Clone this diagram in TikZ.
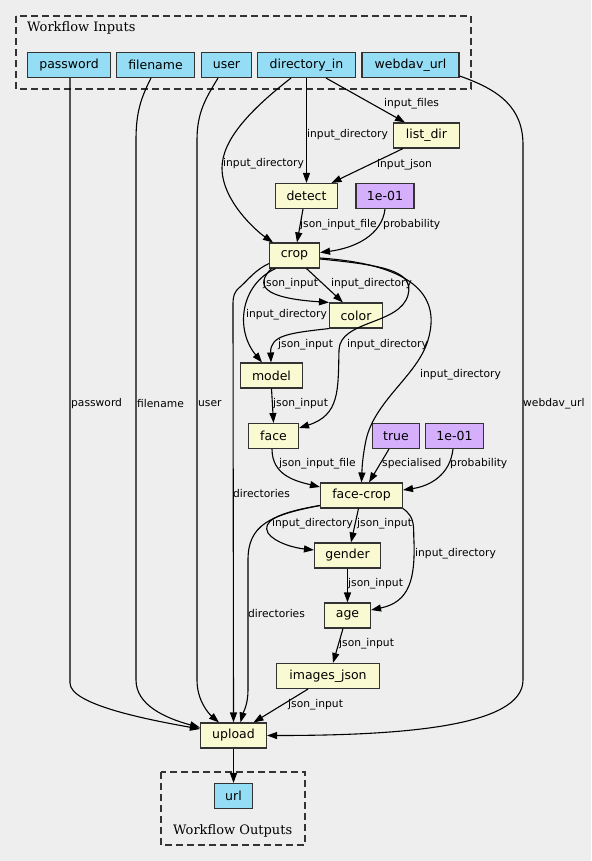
\documentclass[tikz,border=0pt]{standalone}
\usepackage{fontspec}
\setmainfont{DejaVu Sans}
\newfontfamily\serfont{DejaVu Serif}
\usetikzlibrary{arrows.meta}
\definecolor{bgc}{HTML}{EEEEEE}
\definecolor{inc}{HTML}{94DDF4}
\definecolor{stc}{HTML}{FAFAD2}
\definecolor{cnc}{HTML}{D5AEFC}
\definecolor{bdc}{HTML}{333333}
\tikzset{
 box/.style={draw=bdc, line width=1.1pt, inner sep=0pt, minimum height=25pt, font=\fontsize{12.5}{14}\selectfont},
 inbox/.style={box, fill=inc},
 stepbox/.style={box, fill=stc},
 constbox/.style={box, fill=cnc},
 lbl/.style={anchor=west, inner sep=0pt, font=\fontsize{10.7}{12}\selectfont},
 edge/.style={line width=1.1pt, -{Triangle[length=10pt,width=7pt]}},
 grp/.style={draw=bdc, line width=1.1pt, dash pattern=on 7pt off 4pt},
 ttl/.style={anchor=west, inner sep=0pt, font=\serfont\fontsize{13}{15}\selectfont},
}
\begin{document}
\begin{tikzpicture}[x=1pt,y=-1pt]
\fill[bgc] (0,0) rectangle (591,861);
\useasboundingbox (0,0) rectangle (591,861);
% groups
\draw[grp] (16,16) rectangle (471,89);
\node[ttl] (tin) at (27,28) {Workflow Inputs};
\draw[grp] (161,772) rectangle (305,845);
\node[ttl] (tout) at (173,831) {Workflow Outputs};
% nodes
\node[inbox, minimum width=83pt] (password) at (69,65) {password};
\node[inbox, minimum width=78pt] (filename) at (155.5,65) {filename};
\node[inbox, minimum width=50pt] (user) at (226.5,65) {user};
\node[inbox, minimum width=98pt] (dirin) at (306.5,65) {directory\_in};
\node[inbox, minimum width=97pt] (webdav) at (410.5,65) {webdav\_url};
\node[stepbox, minimum width=66pt] (listdir) at (426.5,135.5) {list\_dir};
\node[stepbox, minimum width=62pt] (detect) at (306.5,196) {detect};
\node[constbox, minimum width=58pt] (c1) at (385,196) {1e-01};
\node[stepbox, minimum width=50pt] (crop) at (294.5,255.5) {crop};
\node[stepbox, minimum width=53pt] (color) at (356,315.5) {color};
\node[stepbox, minimum width=62pt] (model) at (271.5,375.5) {model};
\node[stepbox, minimum width=50pt] (face) at (273.5,436) {face};
\node[constbox, minimum width=47pt] (ctrue) at (396,436) {true};
\node[constbox, minimum width=58pt] (c2) at (454.5,436) {1e-01};
\node[stepbox, minimum width=82pt] (facecrop) at (361.5,495.5) {face-crop};
\node[stepbox, minimum width=66pt] (gender) at (347.5,555.5) {gender};
\node[stepbox, minimum width=46pt] (age) at (347.5,615.5) {age};
\node[stepbox, minimum width=103pt] (imgjson) at (328,676) {images\_json};
\node[stepbox, minimum width=66pt] (upload) at (233.5,735.5) {upload};
\node[inbox, minimum width=38pt] (url) at (233.5,796) {url};
% edges
\draw[edge] ([xshift=19.5pt]dirin.south) -- ([xshift=-21.5pt]listdir.north);
\draw[edge] (dirin.south) -- (detect.north);
\draw[edge] ([xshift=-23.5pt]listdir.south) -- ([xshift=25pt]detect.north);
\draw[edge] ([xshift=-15.5pt]dirin.south) .. controls (250,110) and (222,140) .. (222,168) .. controls (222,200) and (255,230) .. ([xshift=-21.5pt]crop.north);
\draw[edge] ([xshift=-3.5pt]detect.south) -- ([xshift=2.5pt]crop.north);
\draw[edge] (c1.south) .. controls (382,235) and (355,248) .. ([yshift=3pt]crop.east);
\draw[edge] ([xshift=-23pt]crop.south) .. controls (255,285) and (262,298) .. (color.north west);
\draw[edge] ([xshift=12pt]crop.south) -- ([xshift=-13pt]color.north);
\draw[edge] ([xshift=-19pt]crop.south) .. controls (240,285) and (235,330) .. ([xshift=-9.5pt]model.north);
\draw[edge] (color.south west) .. controls (290,333) and (270,335) .. ([xshift=-0.5pt]model.north);
\draw[edge] ([yshift=-3.5pt]crop.east) .. controls (380,265) and (415,270) .. (408,295) .. controls (400,325) and (340,320) .. (339,350) .. controls (338,390) and (340,415) .. ([yshift=8pt]face.east);
\draw[edge] ([yshift=-2.5pt]crop.east) .. controls (420,265) and (440,300) .. (428,340) .. controls (418,375) and (375,400) .. (366,440) .. controls (362,460) and (362,470) .. (facecrop.north);
\draw[edge] (model.south) -- (face.north);
\draw[edge] ([xshift=-1.5pt]face.south) .. controls (272,475) and (295,481) .. ([yshift=8.5pt]facecrop.west);
\draw[edge] ([xshift=-7pt]ctrue.south) -- ([xshift=7.5pt]facecrop.north);
\draw[edge] ([xshift=-1.5pt]c2.south) .. controls (450,475) and (430,486) .. ([yshift=5.5pt]facecrop.east);
\draw[edge] ([xshift=-3pt]facecrop.south) -- ([xshift=3.5pt]gender.north);
\draw[edge] ([yshift=-10pt]facecrop.west) .. controls (275,513) and (262,522) .. (268,533) .. controls (275,543) and (295,548) .. ([yshift=5.5pt]gender.west);
\draw[edge] (facecrop.south east) .. controls (416,518) and (413,527) .. (414,542) .. controls (415,578) and (410,602) .. ([yshift=5.5pt]age.east);
\draw[edge] (gender.south) -- (age.north);
\draw[edge] ([xshift=-4.5pt]age.south) -- ([xshift=5pt]imgjson.north);
\draw[edge] ([xshift=-20pt]imgjson.south) -- ([xshift=20pt]upload.north);
\draw[edge] ([yshift=-10pt]facecrop.west) .. controls (270,515) and (248,525) .. (248,560) -- (248,690) .. controls (248,705) and (243,713) .. ([xshift=7pt]upload.north);
\draw[edge] ([yshift=-8pt]crop.west) .. controls (255,270) and (248,280) .. (240,287) .. controls (234,292) and (233,296) .. (233,305) -- (upload.north);
\draw[edge] ([xshift=-8.5pt]user.south) .. controls (206,98) and (197,112) .. (197,140) -- (197,680) .. controls (197,700) and (208,713) .. ([xshift=-14.5pt]upload.north);
\draw[edge] ([xshift=-4.5pt]filename.south) .. controls (141,98) and (136,112) .. (136,140) -- (136,680) .. controls (136,705) and (165,718) .. ([yshift=8pt]upload.west);
\draw[edge] ([xshift=1pt]password.south) -- (70,683) .. controls (70,705) and (150,720) .. ([yshift=6.5pt]upload.west);
\draw[edge] ([yshift=-11pt]webdav.east) .. controls (500,90) and (523,108) .. (523,145) -- (523,680) .. controls (523,727) and (400,735.5) .. (upload.east);
\draw[edge] (upload.south) -- (url.north);
% labels
\node[lbl] (l1) at (384,104) {input\_files};
\node[lbl] (l2) at (307,135) {input\_directory};
\node[lbl] (l3) at (377,165) {input\_json};
\node[lbl] (l4) at (223,164) {input\_directory};
\node[lbl] (l5) at (300,225) {json\_input\_file};
\node[lbl] (l6) at (383,225) {probability};
\node[lbl] (l7) at (263,284) {json\_input};
\node[lbl] (l8) at (331,284) {input\_directory};
\node[lbl] (l9) at (246,315) {input\_directory};
\node[lbl] (l10) at (278,345) {json\_input};
\node[lbl] (l11) at (347,345) {input\_directory};
\node[lbl] (l12) at (420,375) {input\_directory};
\node[lbl] (l13) at (71,404) {password};
\node[lbl] (l14) at (137,404) {filename};
\node[lbl] (l15) at (198,404) {user};
\node[lbl] (l16) at (273,404) {json\_input};
\node[lbl] (l17) at (523,404) {webdav\_url};
\node[lbl] (l18) at (279,464) {json\_input\_file};
\node[lbl] (l19) at (382,464) {specialised};
\node[lbl] (l20) at (450,464) {probability};
\node[lbl] (l21) at (233,494) {directories};
\node[lbl] (l22) at (272,524) {input\_directory};
\node[lbl] (l23) at (357,524) {json\_input};
\node[lbl] (l24) at (415,554) {input\_directory};
\node[lbl] (l25) at (348,584) {json\_input};
\node[lbl] (l26) at (248,614) {directories};
\node[lbl] (l27) at (339,644) {json\_input};
\node[lbl] (l28) at (288,705) {json\_input};
\end{tikzpicture}
\end{document}
